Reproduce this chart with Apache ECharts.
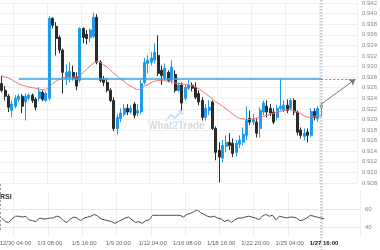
<!DOCTYPE html>
<html><head><meta charset="utf-8">
<script src="https://cdn.jsdelivr.net/npm/echarts/dist/echarts.min.js"></script>
<style>html,body{margin:0;padding:0;background:#fff}#c{width:380px;height:250px}</style>
</head><body><div id="c"></div>
<script>
const timeLabels = ['12/30 04:00','1/3 08:00','1/5 16:00','1/9 20:00','1/12 04:00','1/16 08:00','1/18 16:00','1/22 20:00','1/25 04:00','1/27 16:00'];
const labelStart = 4, labelStep = 10;
const projectionSlots = 10;
// [open, close, low, high]
const candles = [
[0.9268,0.9255,0.9251,0.9282],[0.9255,0.9244,0.9236,0.9263],[0.9244,0.9223,0.9214,0.9248],[0.9217,0.9229,0.9204,0.9236],
[0.9225,0.9240,0.9221,0.9246],[0.9238,0.9244,0.9233,0.9248],[0.9244,0.9225,0.9212,0.9248],[0.9233,0.9244,0.9198,0.9249],
[0.9240,0.9246,0.9236,0.9249],[0.9246,0.9236,0.9231,0.9249],[0.9238,0.9223,0.9217,0.9242],[0.9240,0.9253,0.9234,0.9261],
[0.9251,0.9238,0.9234,0.9255],[0.9236,0.9249,0.9233,0.9253],[0.9240,0.9391,0.9236,0.9395],[0.9391,0.9378,0.9372,0.9393],
[0.9376,0.9353,0.9321,0.9384],[0.9355,0.9331,0.9325,0.9359],[0.9331,0.9289,0.9249,0.9334],[0.9278,0.9289,0.9265,0.9304],
[0.9280,0.9291,0.9270,0.9308],[0.9289,0.9278,0.9274,0.9302],[0.9280,0.9263,0.9255,0.9289],[0.9274,0.9372,0.9270,0.9374],
[0.9372,0.9355,0.9344,0.9374],[0.9361,0.9353,0.9342,0.9369],[0.9355,0.9369,0.9346,0.9372],[0.9357,0.9393,0.9353,0.9402],
[0.9393,0.9308,0.9304,0.9399],[0.9308,0.9274,0.9270,0.9312],[0.9276,0.9270,0.9263,0.9282],[0.9270,0.9255,0.9251,0.9278],
[0.9255,0.9236,0.9233,0.9259],[0.9236,0.9183,0.9178,0.9242],[0.9183,0.9204,0.9172,0.9210],[0.9202,0.9212,0.9195,0.9221],
[0.9210,0.9221,0.9206,0.9229],[0.9221,0.9214,0.9208,0.9229],[0.9214,0.9221,0.9210,0.9227],[0.9229,0.9208,0.9202,0.9233],
[0.9212,0.9217,0.9206,0.9229],[0.9215,0.9268,0.9210,0.9274],[0.9270,0.9308,0.9266,0.9316],[0.9306,0.9312,0.9287,0.9321],
[0.9308,0.9316,0.9302,0.9327],[0.9312,0.9327,0.9306,0.9344],[0.9321,0.9287,0.9282,0.9359],[0.9293,0.9283,0.9265,0.9302],
[0.9278,0.9297,0.9274,0.9306],[0.9289,0.9274,0.9270,0.9293],[0.9274,0.9299,0.9268,0.9312],[0.9285,0.9255,0.9251,0.9293],
[0.9255,0.9265,0.9251,0.9270],[0.9265,0.9231,0.9217,0.9270],[0.9240,0.9261,0.9236,0.9266],[0.9259,0.9265,0.9255,0.9274],
[0.9265,0.9259,0.9253,0.9270],[0.9261,0.9242,0.9238,0.9270],[0.9249,0.9233,0.9227,0.9255],[0.9236,0.9204,0.9198,0.9242],
[0.9204,0.9221,0.9198,0.9229],[0.9217,0.9223,0.9208,0.9236],[0.9233,0.9183,0.9180,0.9236],[0.9183,0.9138,0.9123,0.9187],
[0.9142,0.9129,0.9081,0.9157],[0.9127,0.9151,0.9119,0.9161],[0.9149,0.9157,0.9138,0.9170],[0.9157,0.9151,0.9142,0.9174],
[0.9155,0.9136,0.9129,0.9164],[0.9138,0.9155,0.9130,0.9161],[0.9153,0.9161,0.9146,0.9170],[0.9157,0.9172,0.9151,0.9185],
[0.9170,0.9198,0.9161,0.9225],[0.9202,0.9195,0.9189,0.9217],[0.9195,0.9200,0.9189,0.9210],[0.9195,0.9174,0.9166,0.9202],
[0.9183,0.9217,0.9166,0.9223],[0.9214,0.9231,0.9208,0.9236],[0.9225,0.9214,0.9204,0.9236],[0.9221,0.9212,0.9206,0.9229],
[0.9214,0.9195,0.9191,0.9221],[0.9204,0.9221,0.9198,0.9227],[0.9221,0.9225,0.9217,0.9276],[0.9217,0.9227,0.9214,0.9236],
[0.9227,0.9217,0.9212,0.9238],[0.9221,0.9236,0.9217,0.9240],[0.9236,0.9214,0.9208,0.9240],[0.9214,0.9176,0.9170,0.9217],
[0.9180,0.9170,0.9164,0.9185],[0.9168,0.9174,0.9161,0.9183],[0.9176,0.9170,0.9157,0.9183],[0.9170,0.9215,0.9166,0.9221],
[0.9215,0.9204,0.9198,0.9221],[0.9202,0.9221,0.9195,0.9225],[0.9223,0.9227,0.9206,0.9231]
];
const maValues = [
0.9283,0.9280,0.9278,0.9275,0.9271,0.9267,0.9265,0.9263,0.9261,0.9260,
0.9259,0.9257,0.9256,0.9256,0.9263,0.9268,0.9272,0.9276,0.9279,0.9280,
0.9280,0.9280,0.9280,0.9283,0.9289,0.9295,0.9301,0.9306,0.9310,0.9308,
0.9303,0.9299,0.9293,0.9287,0.9282,0.9276,0.9272,0.9266,0.9263,0.9259,
0.9256,0.9258,0.9263,0.9266,0.9270,0.9272,0.9274,0.9274,0.9273,0.9272,
0.9271,0.9269,0.9268,0.9267,0.9266,0.9265,0.9264,0.9261,0.9258,0.9253,
0.9249,0.9244,0.9239,0.9233,0.9229,0.9225,0.9220,0.9215,0.9210,0.9205,
0.9202,0.9201,0.9200,0.9200,0.9201,0.9203,0.9204,0.9206,0.9208,0.9210,
0.9212,0.9214,0.9215,0.9217,0.9218,0.9219,0.9216,0.9214,0.9211,0.9207,
0.9204,0.9205,0.9206,0.9207,0.9206
];
const rsiValues = [
50,46,45,49,52,52,51,52,48,47,
46,50,49,49,50,50,52,51,47,45,
49,51,50,47,50,51,52,54,52,49,
48,47,46,44,46,48,50,51,48,45,
46,44,47,48,53,53,53,53,53,53,
53,53,53,51,54,55,57,59,56,54,
52,51,52,50,49,46,48,45,48,50,
50,51,52,51,50,48,52,54,52,53,
48,52,51,50,51,51,50,47,48,50,
53,52,51,50,49
];
const levelValue = 0.9276;
const levelStartIndex = 5;
const arrowStartValue = 0.9229;
const rsiGridLevels = [40, 60];

const N = candles.length;
const lastIdx = N - 1;
const endIdx = N + projectionSlots - 1;
const cats = [];
const labelAt = {};
for (let i = 0; i <= endIdx; i++) cats.push('c' + i);
timeLabels.forEach((t, k) => { labelAt[labelStart + k * labelStep] = t; });
const hasLabel = (idx) => !!labelAt[idx];

const UP = '#1e9be9', DOWN = '#2b2b2b';
const FONT = 'Liberation Sans, Arial, sans-serif';
const candleData = candles.map((c, i) => i === lastIdx
  ? {value: c, itemStyle: {color: '#ffffff', color0: '#ffffff', borderColor: '#8a8a8a', borderColor0: '#8a8a8a'}}
  : c);

const chart = echarts.init(document.getElementById('c'), null, {renderer: 'canvas'});
const gridLineColor = '#efefef';
const baseGraphic = [
  {type: 'text', left: 148, top: 121, z: 0, silent: true,
   style: {text: '{a|What}{c|2}{a|Trade}', rich: {
     a: {fontSize: 10, fontWeight: 'bold', fill: '#d9d9d9', fontFamily: 'Liberation Sans'},
     c: {fontSize: 10, fontWeight: 'bold', fill: '#c4e2f6', fontFamily: 'Liberation Sans'}}}},
  {type: 'polyline', z: 0, silent: true, shape: {points: [[166, 121], [171, 115], [175, 118], [182, 111]]},
   style: {stroke: '#c4e2f6', lineWidth: 2, fill: null}},
  {type: 'polyline', z: 0, silent: true, shape: {points: [[178, 111], [182, 111], [182, 115]]},
   style: {stroke: '#c4e2f6', lineWidth: 1.5, fill: null}},
  {type: 'text', left: 0, top: 194, style: {text: 'RSI', fontSize: 7, fontWeight: 'bold', fill: '#333', fontFamily: FONT}},
  {type: 'line', shape: {x1: 0.5, y1: 184, x2: 0.5, y2: 232}, style: {stroke: '#999', lineWidth: 1, lineDash: [2, 2]}}
];
const option = {
  animation: false,
  textStyle: {fontFamily: FONT},
  grid: [
    {left: 0, right: 20, top: 3, height: 180},
    {left: 0, right: 20, top: 191, height: 45}
  ],
  xAxis: [
    {type: 'category', gridIndex: 0, data: cats, boundaryGap: true,
     axisLine: {show: false}, axisTick: {show: false}, axisLabel: {show: false},
     splitLine: {show: true, interval: (i) => hasLabel(i), lineStyle: {color: gridLineColor}}},
    {type: 'category', gridIndex: 1, data: cats, boundaryGap: true,
     axisLine: {show: false}, axisTick: {show: false}, axisLabel: {show: false},
     splitLine: {show: true, interval: (i) => hasLabel(i), lineStyle: {color: gridLineColor}}}
  ],
  yAxis: [
    {type: 'value', gridIndex: 0, position: 'right', min: 0.908, max: 0.942, interval: 0.002,
     axisLine: {show: false}, axisTick: {show: false},
     axisLabel: {fontSize: 6, fontFamily: FONT, color: '#888', margin: 5, formatter: (v) => v.toFixed(3)},
     splitLine: {lineStyle: {color: gridLineColor}}},
    {type: 'value', gridIndex: 1, position: 'right', min: 30, max: 80, interval: 10,
     axisLine: {show: false}, axisTick: {show: false},
     axisLabel: {fontSize: 6, fontFamily: FONT, color: '#888', margin: 5, formatter: (v) => rsiGridLevels.includes(v) ? String(v) : ''},
     splitLine: {show: false}}
  ],
  series: [
    {type: 'candlestick', xAxisIndex: 0, yAxisIndex: 0, data: candleData, barWidth: 2.6,
     itemStyle: {color: UP, color0: DOWN, borderColor: UP, borderColor0: DOWN, borderWidth: 1},
     markLine: {silent: true, symbol: ['none', 'none'], label: {show: false}, animation: false,
       data: [
         [{coord: [levelStartIndex, levelValue], lineStyle: {color: '#3aa3e6', width: 1.5, type: 'solid'}},
          {coord: [lastIdx, levelValue]}],
         [{coord: [lastIdx, levelValue], lineStyle: {color: '#888', width: 1, type: [2, 2]}},
          {coord: [endIdx, levelValue]}]
       ]}},
    {type: 'line', xAxisIndex: 0, yAxisIndex: 0, data: maValues, showSymbol: false, symbol: 'none',
     lineStyle: {color: '#f2706c', width: 1}, z: 3,
     markLine: {silent: true, symbol: ['none', 'arrow'], symbolSize: 6, label: {show: false}, animation: false,
       lineStyle: {color: '#777', width: 1, type: 'solid'},
       data: [[{coord: [lastIdx, arrowStartValue]}, {coord: [endIdx, levelValue]}]]}},
    {type: 'line', xAxisIndex: 1, yAxisIndex: 1, data: rsiValues, showSymbol: false, symbol: 'none',
     lineStyle: {color: '#4a4a4a', width: 1},
     markLine: {silent: true, symbol: ['none', 'none'], label: {show: false}, animation: false,
       lineStyle: {color: '#e6e6e6', width: 1, type: 'solid'},
       data: rsiGridLevels.map(v => ({yAxis: v}))}}
  ],
  graphic: baseGraphic
};
chart.setOption(option);
// time labels and current-candle marker placed through the category scale
const extra = [];
const px = chart.convertToPixel({xAxisIndex: 0}, lastIdx);
extra.push({type: 'line', z: 1, silent: true, shape: {x1: px, y1: 0, x2: px, y2: 250},
  style: {stroke: '#c3ccd4', lineWidth: 2.5, lineDash: [1.5, 1.5]}});
Object.keys(labelAt).forEach((k) => {
  const idx = +k;
  const x = chart.convertToPixel({xAxisIndex: 1}, idx);
  const isLast = idx === lastIdx;
  extra.push({type: 'text', z: 5, silent: true, x: x, y: 243,
    style: {text: labelAt[idx], fontSize: 6, fontFamily: FONT, fontWeight: isLast ? 'bold' : 'normal',
      fill: isLast ? '#222' : '#666', align: 'center', verticalAlign: 'middle'}});
});
chart.setOption({graphic: baseGraphic.concat(extra)});
</script></body></html>
